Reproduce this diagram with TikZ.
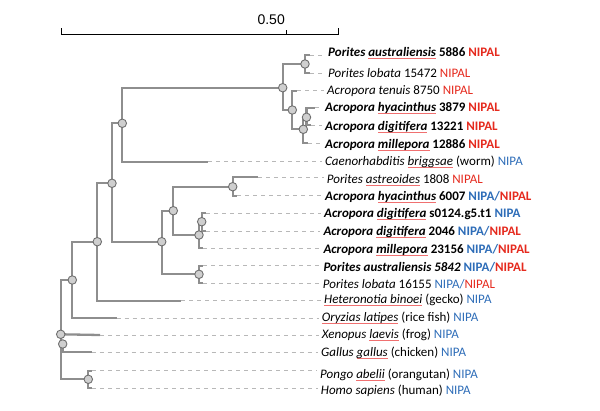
\documentclass[tikz,border=0pt]{standalone}
\usepackage{fontspec}
\setmainfont{Carlito}
\newfontfamily\scalefont{Liberation Sans}
\definecolor{treegray}{HTML}{8E8E8E}
\definecolor{dashgray}{HTML}{B8B8B8}
\definecolor{dotfill}{HTML}{CFCFCF}
\definecolor{dotborder}{HTML}{6E6E6E}
\definecolor{nipalred}{HTML}{E52A1E}
\definecolor{nipablue}{HTML}{2E6DB8}
\definecolor{sqred}{HTML}{F07070}
\newcommand\leaffont{\fontsize{13}{15}\selectfont}
\newcommand\sq[1]{\setbox0\hbox{#1}\rlap{\textcolor{sqred}{\rule[-2.2pt]{\wd0}{0.5pt}}}\box0}
\newcommand\np{\textcolor{nipablue}{NIPA}}
\newcommand\npl{\textcolor{nipalred}{NIPAL}}
\newcommand\both{\textcolor{nipablue}{NIPA/}\textcolor{nipalred}{NIPAL}}
\begin{document}
\begin{tikzpicture}[x=1pt,y=-1pt,
  branch/.style={draw=treegray, line width=2.3pt},
  dashline/.style={draw=dashgray, line width=0.9pt, dash pattern=on 4pt off 4pt},
  dot/.style={circle, draw=dotborder, fill=dotfill, line width=0.9pt, minimum size=8.5pt, inner sep=0pt},
  leaf/.style={anchor=west, inner sep=0pt, font=\leaffont, text=black},
  scaleline/.style={draw=black, line width=1pt}]
\useasboundingbox (0,0) rectangle (600,410);

% scale bar
\coordinate (sbL) at (61,34);
\coordinate (sbR) at (338,34);
\coordinate (sbT) at (286,34);
\draw[scaleline] ([yshift=6pt]sbL) -- (sbL) -- (sbR) -- ([yshift=6pt]sbR);
\draw[scaleline] (sbT) -- ([yshift=4pt]sbT);
\node[anchor=base east, inner sep=0pt, font=\scalefont\fontsize{14}{14}\selectfont] (sblabel) at (285,24) {0.50};

% internal nodes
\coordinate (nA) at (305,64);
\coordinate (nB) at (282.7,87.7);
\coordinate (nC) at (292.3,110);
\coordinate (nD) at (303.3,129.3);
\coordinate (nE) at (306.5,117.3);
\coordinate (nF) at (122.3,123.3);
\coordinate (nG) at (112,183.3);
\coordinate (nH) at (161.7,241.7);
\coordinate (nI) at (173.3,210.7);
\coordinate (nK) at (232.7,186.7);
\coordinate (nL) at (199,235);
\coordinate (nM) at (201.7,221.7);
\coordinate (nJ) at (199,274.3);
\coordinate (nN) at (97.3,241.7);
\coordinate (nO) at (72.3,280);
\coordinate (nR) at (60.7,334.3);
\coordinate (nS) at (62.7,344);
\coordinate (nQ) at (88.3,379.3);

% stub ends (solid branch ends)
\coordinate (s1) at (310,55);
\coordinate (s2) at (310,73.3);
\coordinate (s3) at (297,90.7);
\coordinate (s4) at (315,107.7);
\coordinate (s5) at (311,125);
\coordinate (s6) at (308,143);
\coordinate (s7) at (208.3,161.7);
\coordinate (s8) at (258.3,177.3);
\coordinate (s9) at (237,195.7);
\coordinate (s10) at (206,213.3);
\coordinate (s11) at (206,231);
\coordinate (s12) at (203,248.3);
\coordinate (s13) at (203,265.7);
\coordinate (s14) at (203,283.3);
\coordinate (s15) at (181,300.7);
\coordinate (s16) at (116.7,318.3);
\coordinate (s17) at (100,335);
\coordinate (s18) at (91.7,352.3);
\coordinate (s19) at (92,370.7);
\coordinate (s20) at (92,388.3);

% leaves
\node[leaf] (t1) at (328,53.3) {\textbf{\textit{Porites \sq{australiensis}} 5886} \textbf{\npl}};
\node[leaf] (t2) at (328,73.3) {\textit{Porites lobata} 15472 \npl};
\node[leaf] (t3) at (327,90.7) {\textit{Acropora tenuis} 8750 \npl};
\node[leaf] (t4) at (325,107.7) {\textbf{\textit{Acropora \sq{hyacinthus}} 3879 \npl}};
\node[leaf] (t5) at (325,126.7) {\textbf{\textit{Acropora \sq{digitifera}} 13221 \npl}};
\node[leaf] (t6) at (325,145) {\textbf{\textit{Acropora \sq{millepora}} 12886 \npl}};
\node[leaf] (t7) at (325,161.7) {\textit{Caenorhabditis \sq{briggsae}} (worm) \np};
\node[leaf] (t8) at (326.7,180) {\textit{Porites \sq{astreoides}} 1808 \npl};
\node[leaf] (t9) at (325,197) {\textbf{\textit{Acropora \sq{hyacinthus}} 6007 \both}};
\node[leaf] (t10) at (324,214) {\textbf{\textit{Acropora \sq{digitifera}} s0124.g5.t1 \np}};
\node[leaf] (t11) at (323.3,232) {\textbf{\textit{Acropora \sq{digitifera}} 2046 \both}};
\node[leaf] (t12) at (323.3,250) {\textbf{\textit{Acropora \sq{millepora}} 23156 \both}};
\node[leaf] (t13) at (323.3,267) {\textbf{\textit{Porites australiensis 5842} \both}};
\node[leaf] (t14) at (322.7,284) {\textit{Porites lobata} 16155 \both};
\node[leaf] (t15) at (324,300) {\textit{\sq{Heteronotia binoei}} (gecko) \np};
\node[leaf] (t16) at (321.7,318) {\textit{\sq{Oryzias latipes}} (rice fish) \np};
\node[leaf] (t17) at (321.7,335) {\textit{Xenopus \sq{laevis}} (frog) \np};
\node[leaf] (t18) at (321,353) {\textit{Gallus \sq{gallus}} (chicken) \np};
\node[leaf] (t19) at (320,375) {\textit{Pongo \sq{abelii}} (orangutan) \np};
\node[leaf] (t20) at (320.7,391) {\textit{Homo sapiens} (human) \np};

% dashed leader lines
\foreach \i in {1,...,20}
  \draw[dashline] (s\i) -- ([xshift=-3pt]s\i -| t\i.west);

% branches
\draw[branch] (nA) |- (s1);
\draw[branch] (nA) |- (s2);
\draw[branch] (nB) |- (nA);
\draw[branch] (nB) |- (nC);
\draw[branch] (nC) |- (s3);
\draw[branch] (nC) |- (nD);
\draw[branch] (nD) |- (nE);
\draw[branch] (nD) |- (s6);
\draw[branch] (nE) |- (s4);
\draw[branch] (nE) |- (s5);
\draw[branch] (nF) |- (nB);
\draw[branch] (nF) |- (s7);
\draw[branch] (nG) |- (nF);
\draw[branch] (nG) |- (nH);
\draw[branch] (nH) |- (nI);
\draw[branch] (nH) |- (nJ);
\draw[branch] (nI) |- (nK);
\draw[branch] (nI) |- (nL);
\draw[branch] (nK) |- (s8);
\draw[branch] (nK) |- (s9);
\draw[branch] (nL) |- (nM);
\draw[branch] (nL) |- (s12);
\draw[branch] (nM) |- (s10);
\draw[branch] (nM) |- (s11);
\draw[branch] (nJ) |- (s13);
\draw[branch] (nJ) |- (s14);
\draw[branch] (nN) |- (nG);
\draw[branch] (nN) |- (s15);
\draw[branch] (nO) |- (nN);
\draw[branch] (nO) |- (s16);
\draw[branch] (nR) |- (nO);
\draw[branch] (nR) |- (nQ);
\draw[branch] (nR) -- (s17);
\draw[branch] (nS) |- (s18);
\draw[branch] (nQ) |- (s19);
\draw[branch] (nQ) |- (s20);

% node dots
\foreach \n in {A,B,C,D,E,F,G,H,I,K,L,M,J,N,O,R,S,Q}
  \node[dot] (c\n) at (n\n) {};
\end{tikzpicture}
\end{document}
